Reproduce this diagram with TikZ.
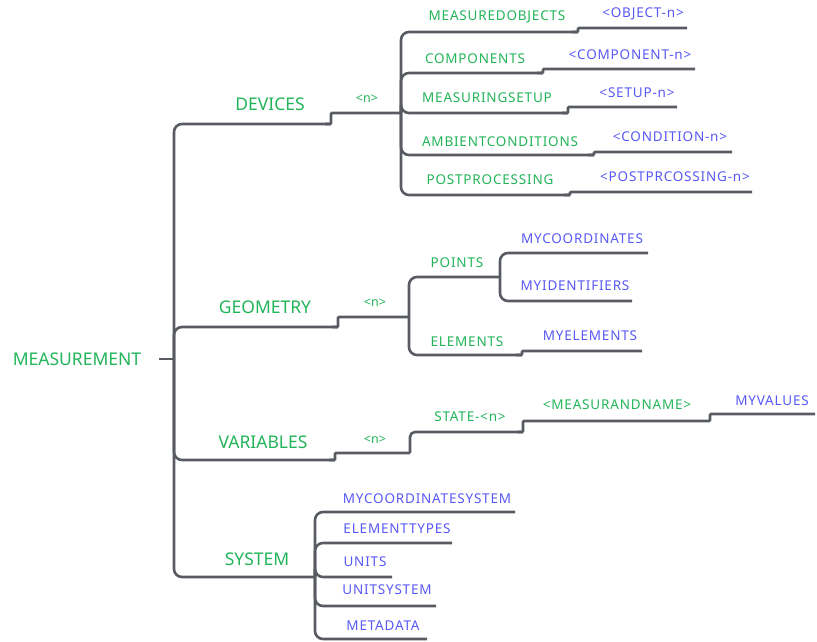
\documentclass[tikz,border=0pt]{standalone}
\usepackage{fontspec}
\setmainfont{Noto Sans}
\usetikzlibrary{calc}
\definecolor{lc}{RGB}{88,92,98}
\definecolor{tg}{RGB}{34,180,88}
\definecolor{tb}{RGB}{88,88,245}
\tikzset{
  ln/.style={draw=lc,line width=2.6pt,rounded corners=8pt},
  jg/.style={draw=lc,line width=2.6pt,rounded corners=1pt},
  big/.style={text=tg,font=\fontsize{17.5}{20}\selectfont,inner sep=0pt},
  midg/.style={text=tg,font=\addfontfeature{LetterSpace=6}\fontsize{13.5}{16}\selectfont,inner sep=0pt},
  midb/.style={text=tb,font=\addfontfeature{LetterSpace=6}\fontsize{13.5}{16}\selectfont,inner sep=0pt},
  sml/.style={text=tg,font=\fontsize{12.5}{14}\selectfont,inner sep=0pt},
}
% #1 from, #2 y, #3 x of jog, #4 y after jog, #5 x end, #6 end name
\newcommand\mmbr[6]{%
  \coordinate (#6) at (#5,#4);
  \draw[ln] (#1) |- (#3,#2);
  \draw[jg] ($(#3,#2)+(-6,0)$) -- (#3,#2) -- (#3,#4) -- (#6);
}
\newcommand\mmpl[4]{% #1 from, #2 y, #3 x end, #4 name
  \coordinate (#4) at (#3,#2);
  \draw[ln] (#1) |- (#4);
}
\begin{document}
\begin{tikzpicture}[x=1pt,y=-1pt]
\useasboundingbox (0,0) rectangle (817,642);
% junctions
\coordinate (rs) at (159,359);
\coordinate (rt) at (174,359);
\coordinate (jdev) at (401,113);
\coordinate (jgeo) at (409,317);
\coordinate (jpts) at (500,277);
\coordinate (jsys) at (315,577);
\coordinate (jvar) at (410,432);
% root
\draw[lc,line width=2.6pt] (rs) -- (rt);
% main branches
\mmbr{rt}{124}{331}{113}{401}{dvend}
\mmbr{rt}{327}{338}{317}{409}{geend}
\mmbr{rt}{460}{335}{453}{410}{vaend}
\draw[ln,rounded corners=5pt] ($(jvar)+(0,21)$) -- (jvar) -- (523,432);
\draw[jg] (518,432) -- (523,432) -- (523,421) -- (710,421) -- (710,414) -- (815,414) coordinate (mvend);
\mmpl{rt}{577}{315}{syend}
% devices children
\mmbr{jdev}{32}{578}{28}{687}{moend}
\mmbr{jdev}{73}{543}{69}{695}{coend}
\mmbr{jdev}{113}{568}{107}{677}{msend}
\mmbr{jdev}{155}{594}{152}{732}{acend}
\mmbr{jdev}{195}{570}{192}{752}{ppend}
% geometry children
\mmpl{jgeo}{277}{500}{ptend}
\mmpl{jpts}{253}{648}{mcend}
\mmpl{jpts}{301}{632}{miend}
\mmbr{jgeo}{355}{522}{351}{642}{elend}
% system children
\mmpl{jsys}{512}{515}{mcsend}
\mmpl{jsys}{543}{452}{etend}
\mmpl{jsys}{577}{392}{unend}
\mmpl{jsys}{606}{436}{usend}
\mmpl{jsys}{639}{427}{mdend}
% texts
\node[big] (measurement) at (77,359) {MEASUREMENT};
\node[big] (devices) at (270,104) {DEVICES};
\node[sml] (ndev) at (367,99) {<n>};
\node[midg] (mo) at (497,17) {MEASUREDOBJECTS};
\node[midb] (obj) at (643,14) {<OBJECT-n>};
\node[midg] (co) at (475,59) {COMPONENTS};
\node[midb] (comp) at (630,55) {<COMPONENT-n>};
\node[midg] (ms) at (487,98) {MEASURINGSETUP};
\node[midb] (setup) at (637,93) {<SETUP-n>};
\node[midg] (ac) at (500,142) {AMBIENTCONDITIONS};
\node[midb] (cond) at (670,137) {<CONDITION-n>};
\node[midg] (pp) at (490,180) {POSTPROCESSING};
\node[midb] (ppn) at (675,177) {<POSTPRCOSSING-n>};
\node[big] (geometry) at (265,307) {GEOMETRY};
\node[sml] (ngeo) at (375,303) {<n>};
\node[midg] (points) at (457,263) {POINTS};
\node[midb] (mycoord) at (582,239) {MYCOORDINATES};
\node[midb] (myid) at (575,286) {MYIDENTIFIERS};
\node[midg] (elements) at (467,342) {ELEMENTS};
\node[midb] (myel) at (590,336) {MYELEMENTS};
\node[big] (variables) at (263,442) {VARIABLES};
\node[sml] (nvar) at (375,440) {<n>};
\node[midg] (state) at (470,417) {STATE-<n>};
\node[midg] (mname) at (617,405) {<MEASURANDNAME>};
\node[midb] (myvalues) at (772,401) {MYVALUES};
\node[big] (system) at (257,559) {SYSTEM};
\node[midb] (mcs) at (427,499) {MYCOORDINATESYSTEM};
\node[midb] (et) at (397,529) {ELEMENTTYPES};
\node[midb] (units) at (365,562) {UNITS};
\node[midb] (us) at (387,590) {UNITSYSTEM};
\node[midb] (md) at (383,626) {METADATA};
\end{tikzpicture}
\end{document}
